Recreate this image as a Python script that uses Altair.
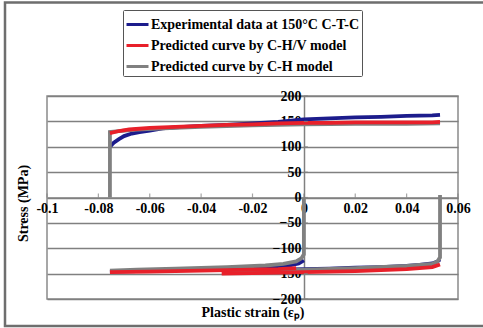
import altair as alt
import pandas as pd

# ---- data ----
series_names = ["Experimental data at 150°C C-T-C",
                "Predicted curve by C-H/V model",
                "Predicted curve by C-H model"]
series_colors = ["#1c1c8c", "#e8202a", "#808080"]

# Experimental
exp_up_x = [-0.0755, -0.074, -0.072, -0.07, -0.067, -0.064, -0.06, -0.055, -0.05, -0.04, -0.03, -0.02, -0.01, 0.0, 0.01, 0.02, 0.03, 0.04, 0.05, 0.053]
exp_up_y = [100, 108, 115, 121, 126, 129, 132, 136, 138, 141, 143, 146, 149, 154, 156, 158, 159, 161, 162, 163]
exp_c1_x = [0.0, -0.002, -0.006, -0.015, -0.03, -0.05, -0.065, -0.0755]
exp_c1_y = [-124, -130, -134, -137, -140, -143, -145, -146]
exp_c2_x = [0.053, 0.052, 0.05, 0.045, 0.04, 0.03, 0.02, 0.01, 0.0, -0.01, -0.02, -0.028]
exp_c2_y = [-122, -126, -130, -133, -135, -137, -138, -140, -141, -142, -143, -144]

# C-H/V model
chv_up_x = [-0.0755, -0.072, -0.068, -0.06, -0.05, -0.04, -0.03, -0.02, -0.01, 0.0, 0.01, 0.02, 0.03, 0.04, 0.05, 0.053]
chv_up_y = [127, 131, 134, 137, 139, 141, 143, 144, 146, 147, 147, 148, 148, 148, 148, 149]
chv_c1_x = [-0.003, -0.01, -0.02, -0.04, -0.06, -0.0755]
chv_c1_y = [-139, -141, -142, -144, -146, -147]
chv_c2_x = [0.053, 0.05, 0.045, 0.04, 0.03, 0.02, 0.01, 0.0, -0.01, -0.02, -0.032]
chv_c2_y = [-132, -137, -139, -141, -143, -145, -146, -147, -148, -149, -150]

# C-H model
ch_c1_x = [0.0, 0.0, -0.001, -0.003, -0.008, -0.015, -0.03, -0.05, -0.065, -0.0755]
ch_c1_y = [0, -112, -120, -126, -131, -134, -137, -140, -142, -144]
ch_up_x = [-0.0755, -0.0755, -0.072, -0.065, -0.05, -0.04, -0.02, 0.0, 0.02, 0.04, 0.053]
ch_up_y = [0, 129, 131, 134, 137, 139, 142, 144, 145, 145, 146]
ch_c2_x = [0.053, 0.053, 0.052, 0.05, 0.04, 0.02, 0.0, -0.02, -0.03]
ch_c2_y = [5, -118, -126, -131, -135, -139, -142, -144, -145]

x_ticks = [-0.1, -0.08, -0.06, -0.04, -0.02, 0.0, 0.02, 0.04, 0.06]
y_ticks = [-200, -150, -100, -50, 0, 50, 100, 150, 200]

# ---- build table ----
rows = []
segments = [
    (series_names[0], "e1", exp_up_x, exp_up_y),
    (series_names[0], "e2", exp_c1_x, exp_c1_y),
    (series_names[0], "e3", exp_c2_x, exp_c2_y),
    (series_names[2], "g1", ch_c1_x, ch_c1_y),
    (series_names[2], "g2", ch_up_x, ch_up_y),
    (series_names[2], "g3", ch_c2_x, ch_c2_y),
    (series_names[1], "r1", chv_up_x, chv_up_y),
    (series_names[1], "r2", chv_c1_x, chv_c1_y),
    (series_names[1], "r3", chv_c2_x, chv_c2_y),
]
for s, seg, xs, ys in segments:
    for i, (xv, yv) in enumerate(zip(xs, ys)):
        rows.append({"series": s, "seg": seg, "i": i, "x": xv, "y": yv})
df = pd.DataFrame(rows)

FONT = "'Liberation Serif', 'Times New Roman', serif"
W, H = 411, 203

xscale = alt.Scale(domain=[-0.1, 0.06], nice=False, zero=False)
yscale = alt.Scale(domain=[-200, 200], nice=False, zero=False)

x_axis = alt.Axis(values=x_ticks, orient="bottom", offset=-101.5, grid=False,
                  tickSize=0, labelPadding=4, domainColor="#808080", domainWidth=1.5,
                  labelExpr="toString(round(datum.value*100)/100)",
                  labelFont=FONT, labelFontWeight="bold", labelFontSize=14, labelColor="black",
                  title="Plastic strain (εₚ)", titleFont=FONT, titleFontWeight="bold",
                  titleFontSize=14, titleColor="black", titleY=119, titleBaseline="alphabetic",
                  labelFlush=False, labelOverlap=False)
y_axis = alt.Axis(values=y_ticks, orient="left", offset=-257, grid=True,
                  gridColor="#808080", gridWidth=1.5, tickSize=0, labelPadding=3,
                  domainColor="#808080", domainWidth=1.5,
                  labelFont=FONT, labelFontWeight="bold", labelFontSize=14, labelColor="black",
                  title="Stress (MPa)", titleFont=FONT, titleFontWeight="bold",
                  titleFontSize=14, titleColor="black", titleX=-281, titleY=107,
                  titleBaseline="middle", titleAlign="center", titleAngle=270,
                  labelFlush=False, labelOverlap=False)

lines = alt.Chart(df).mark_line(strokeWidth=3.8, clip=False).encode(
    x=alt.X("x:Q", scale=xscale, axis=x_axis),
    y=alt.Y("y:Q", scale=yscale, axis=y_axis),
    color=alt.Color("series:N",
                    scale=alt.Scale(domain=series_names, range=series_colors),
                    sort=series_names,
                    legend=alt.Legend(title=None, orient="none", legendX=76, legendY=-86,
                                      symbolType="stroke", symbolSize=484,
                                      symbolStrokeWidth=3, labelOffset=1,
                                      labelFont=FONT, labelFontWeight="bold",
                                      labelFontSize=14, labelColor="black",
                                      labelLimit=400, rowPadding=1, padding=2,
                                      strokeColor="#555555", fillColor="white",
                                      cornerRadius=1)),
    detail="seg:N",
    order="i:Q",
)

xt = pd.DataFrame({"x": x_ticks})
yt = pd.DataFrame({"y": y_ticks})
xtick_marks = alt.Chart(xt).mark_tick(orient="vertical", size=4, thickness=1.2,
                                      color="#808080", yOffset=-2).encode(
    x=alt.X("x:Q", scale=xscale, axis=x_axis), y=alt.datum(0, scale=yscale, axis=y_axis))
ytick_marks = alt.Chart(yt).mark_tick(orient="horizontal", size=4, thickness=1.2,
                                      color="#808080", xOffset=2).encode(
    y=alt.Y("y:Q", scale=yscale, axis=y_axis), x=alt.datum(0.0, scale=xscale, axis=x_axis))

frame = alt.Chart(pd.DataFrame({"a": [0]})).mark_rect(
    fill=None, stroke="#6e6e6e", strokeWidth=2.5, clip=False).encode(
    x=alt.value(-42), x2=alt.value(460), y=alt.value(-93.5), y2=alt.value(230))

chart = alt.layer(lines, xtick_marks, ytick_marks, frame).properties(
    width=W, height=H,
    autosize=alt.AutoSizeParams(type="none"),
    padding={"left": 47, "top": 96, "right": 25, "bottom": 29},
).configure(background="white", font=FONT
).configure_axis(labelFont=FONT, titleFont=FONT
).configure_legend(labelFont=FONT
).configure_view(stroke="#8a8a8a", strokeWidth=1.5)

chart.save("out.html", embed_options={"renderer": "svg", "actions": False})
